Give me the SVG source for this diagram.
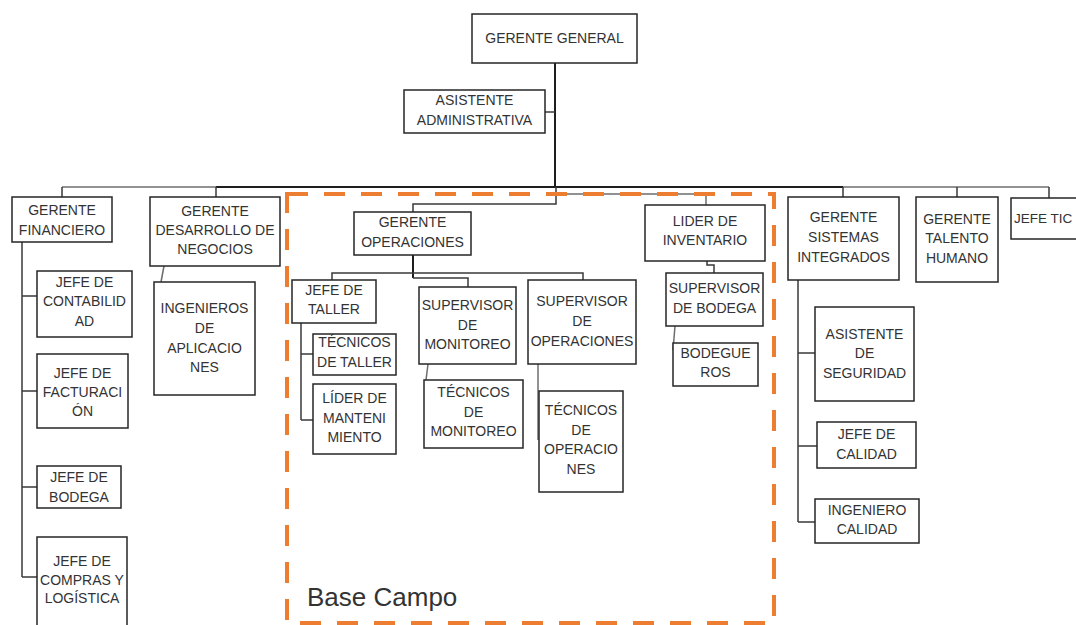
<svg xmlns="http://www.w3.org/2000/svg" width="1076" height="625" viewBox="0 0 1076 625">
  <style>
    .box { fill: #ffffff; stroke: #262626; stroke-width: 1.5; }
    .lbl { font-family: "Liberation Sans", Arial, sans-serif; font-size: 14px; fill: #333333; text-anchor: middle; }
    .wire { fill: none; stroke: #3a3a3a; stroke-width: 1.5; }
    .wire-lt { fill: none; stroke: #6e6e6e; stroke-width: 1.5; }
    .trunk { fill: none; stroke: #1e1e1e; stroke-width: 2; }
    .zone { fill: none; stroke: #ED7D31; stroke-width: 4; stroke-dasharray: 21 16; }
    .zone-lbl { font-family: "Liberation Sans", Arial, sans-serif; font-size: 26px; fill: #333333; }
  </style>

  <!-- connectors -->
  <g id="connectors">
    <path class="trunk" d="M555,63 V187"/>
    <path class="wire" d="M545,112 H555"/>
    <path class="wire-lt" d="M62,187 H216"/>
    <path class="trunk" d="M216,187 H843"/>
    <path class="wire-lt" d="M843,187 H1049"/>
    <path class="wire" d="M62,187 V197 M216,187 V197 M843,187 V197 M957,187 V197 M1049,187 V198"/>
    <path class="wire" d="M556,187 V204 H413 V212"/>
    <path class="wire-lt" d="M556,194 H706 V205"/>
    <!-- finance column -->
    <path class="wire" d="M22,242 V577 M22,296 H37 M22,391 H37 M22,487 H37 M22,577 H37"/>
    <path class="wire-lt" d="M164,266 L161,282"/>
    <!-- operations -->
    <path class="trunk" d="M413,255 V278"/>
    <path class="wire" d="M413,278 H468 V287"/>
    <path class="wire" d="M332,280 V273 H583 V280"/>
    <path class="wire" d="M301,323 V420 M301,354 H313 M301,420 H313"/>
    <path class="wire-lt" d="M428,364 L426,380"/>
    <path class="wire-lt" d="M538,364 V440"/>
    <path class="wire" d="M707,261 V265 H714 V273"/>
    <path class="wire-lt" d="M675,326 L673,350"/>
    <!-- integrated systems -->
    <path class="wire" d="M798,280 V522 M798,353 H815 M798,446 H817 M798,522 H815"/>
  </g>

  <!-- field base zone -->
  <g id="base-campo">
    <rect class="zone" x="287" y="194" width="487" height="429"/>
    <text class="zone-lbl" x="307" y="606">Base Campo</text>
  </g>

  <g id="gerente-general">
    <rect class="box" x="472" y="14" width="165" height="49"/>
    <text class="lbl" x="554.5" y="43">GERENTE GENERAL</text>
  </g>
  <g id="asistente-administrativa">
    <rect class="box" x="404" y="90" width="141" height="43"/>
    <text class="lbl" x="474.5" y="105">ASISTENTE</text>
    <text class="lbl" x="474.5" y="125">ADMINISTRATIVA</text>
  </g>

  <g id="gerente-financiero">
    <rect class="box" x="12" y="197" width="100" height="45"/>
    <text class="lbl" x="62" y="215">GERENTE</text>
    <text class="lbl" x="62" y="235">FINANCIERO</text>
  </g>
  <g id="jefe-contabilidad">
    <rect class="box" x="37" y="271" width="95" height="66"/>
    <text class="lbl" x="84.5" y="286.5">JEFE DE</text>
    <text class="lbl" x="84.5" y="306">CONTABILID</text>
    <text class="lbl" x="84.5" y="326">AD</text>
  </g>
  <g id="jefe-facturacion">
    <rect class="box" x="37" y="354" width="91" height="74"/>
    <text class="lbl" x="82.5" y="378">JEFE DE</text>
    <text class="lbl" x="82.5" y="397">FACTURACI</text>
    <text class="lbl" x="82.5" y="416">ÓN</text>
  </g>
  <g id="jefe-bodega">
    <rect class="box" x="37" y="466" width="84" height="42"/>
    <text class="lbl" x="79" y="482">JEFE DE</text>
    <text class="lbl" x="79" y="502">BODEGA</text>
  </g>
  <g id="jefe-compras">
    <rect class="box" x="37" y="537" width="90" height="100"/>
    <text class="lbl" x="82" y="566">JEFE DE</text>
    <text class="lbl" x="82" y="585">COMPRAS Y</text>
    <text class="lbl" x="82" y="603">LOGÍSTICA</text>
  </g>

  <g id="gerente-desarrollo">
    <rect class="box" x="150" y="197" width="130" height="69"/>
    <text class="lbl" x="215" y="215.5">GERENTE</text>
    <text class="lbl" x="215" y="234.5">DESARROLLO DE</text>
    <text class="lbl" x="215" y="253.5">NEGOCIOS</text>
  </g>
  <g id="ingenieros-aplicaciones">
    <rect class="box" x="154" y="282" width="101" height="113"/>
    <text class="lbl" x="204.5" y="313">INGENIEROS</text>
    <text class="lbl" x="204.5" y="333">DE</text>
    <text class="lbl" x="204.5" y="353">APLICACIO</text>
    <text class="lbl" x="204.5" y="372">NES</text>
  </g>

  <g id="gerente-operaciones">
    <rect class="box" x="354" y="212" width="117" height="43"/>
    <text class="lbl" x="412.5" y="227">GERENTE</text>
    <text class="lbl" x="412.5" y="247">OPERACIONES</text>
  </g>
  <g id="jefe-taller">
    <rect class="box" x="292" y="280" width="84" height="43"/>
    <text class="lbl" x="334" y="295">JEFE DE</text>
    <text class="lbl" x="334" y="314">TALLER</text>
  </g>
  <g id="tecnicos-taller">
    <rect class="box" x="313" y="334" width="83" height="41"/>
    <text class="lbl" x="354.5" y="347">TÉCNICOS</text>
    <text class="lbl" x="354.5" y="367">DE TALLER</text>
  </g>
  <g id="lider-mantenimiento">
    <rect class="box" x="313" y="384" width="83" height="70"/>
    <text class="lbl" x="354.5" y="403">LÍDER DE</text>
    <text class="lbl" x="354.5" y="423">MANTENI</text>
    <text class="lbl" x="354.5" y="442">MIENTO</text>
  </g>
  <g id="supervisor-monitoreo">
    <rect class="box" x="419" y="287" width="97" height="77"/>
    <text class="lbl" x="467.5" y="310">SUPERVISOR</text>
    <text class="lbl" x="467.5" y="330">DE</text>
    <text class="lbl" x="467.5" y="349">MONITOREO</text>
  </g>
  <g id="tecnicos-monitoreo">
    <rect class="box" x="424" y="380" width="99" height="68"/>
    <text class="lbl" x="473.5" y="397">TÉCNICOS</text>
    <text class="lbl" x="473.5" y="417">DE</text>
    <text class="lbl" x="473.5" y="436">MONITOREO</text>
  </g>
  <g id="supervisor-operaciones">
    <rect class="box" x="528" y="280" width="108" height="84"/>
    <text class="lbl" x="582" y="306">SUPERVISOR</text>
    <text class="lbl" x="582" y="326">DE</text>
    <text class="lbl" x="582" y="346">OPERACIONES</text>
  </g>
  <g id="tecnicos-operaciones">
    <rect class="box" x="539" y="391" width="84" height="101"/>
    <text class="lbl" x="581" y="415">TÉCNICOS</text>
    <text class="lbl" x="581" y="435">DE</text>
    <text class="lbl" x="581" y="454">OPERACIO</text>
    <text class="lbl" x="581" y="474">NES</text>
  </g>
  <g id="lider-inventario">
    <rect class="box" x="645" y="205" width="120" height="56"/>
    <text class="lbl" x="705" y="226">LIDER DE</text>
    <text class="lbl" x="705" y="245">INVENTARIO</text>
  </g>
  <g id="supervisor-bodega">
    <rect class="box" x="666" y="273" width="97" height="53"/>
    <text class="lbl" x="714.5" y="293">SUPERVISOR</text>
    <text class="lbl" x="714.5" y="313">DE BODEGA</text>
  </g>
  <g id="bodegueros">
    <rect class="box" x="673" y="343" width="85" height="43"/>
    <text class="lbl" x="715.5" y="358">BODEGUE</text>
    <text class="lbl" x="715.5" y="377">ROS</text>
  </g>

  <g id="gerente-sistemas">
    <rect class="box" x="788" y="197" width="111" height="83"/>
    <text class="lbl" x="843.5" y="222">GERENTE</text>
    <text class="lbl" x="843.5" y="242">SISTEMAS</text>
    <text class="lbl" x="843.5" y="262">INTEGRADOS</text>
  </g>
  <g id="asistente-seguridad">
    <rect class="box" x="815" y="307" width="99" height="94"/>
    <text class="lbl" x="864.5" y="339">ASISTENTE</text>
    <text class="lbl" x="864.5" y="358">DE</text>
    <text class="lbl" x="864.5" y="378">SEGURIDAD</text>
  </g>
  <g id="jefe-calidad">
    <rect class="box" x="817" y="422" width="99" height="46"/>
    <text class="lbl" x="866.5" y="439">JEFE DE</text>
    <text class="lbl" x="866.5" y="459">CALIDAD</text>
  </g>
  <g id="ingeniero-calidad">
    <rect class="box" x="815" y="499" width="104" height="44"/>
    <text class="lbl" x="867" y="515">INGENIERO</text>
    <text class="lbl" x="867" y="534">CALIDAD</text>
  </g>
  <g id="gerente-talento">
    <rect class="box" x="916" y="197" width="82" height="85"/>
    <text class="lbl" x="957" y="224">GERENTE</text>
    <text class="lbl" x="957" y="243">TALENTO</text>
    <text class="lbl" x="957" y="263">HUMANO</text>
  </g>
  <g id="jefe-tic">
    <rect class="box" x="1011" y="198" width="80" height="41"/>
    <text class="lbl" x="1014" y="223" style="text-anchor: start; font-size: 13.5px">JEFE TIC</text>
  </g>
</svg>
